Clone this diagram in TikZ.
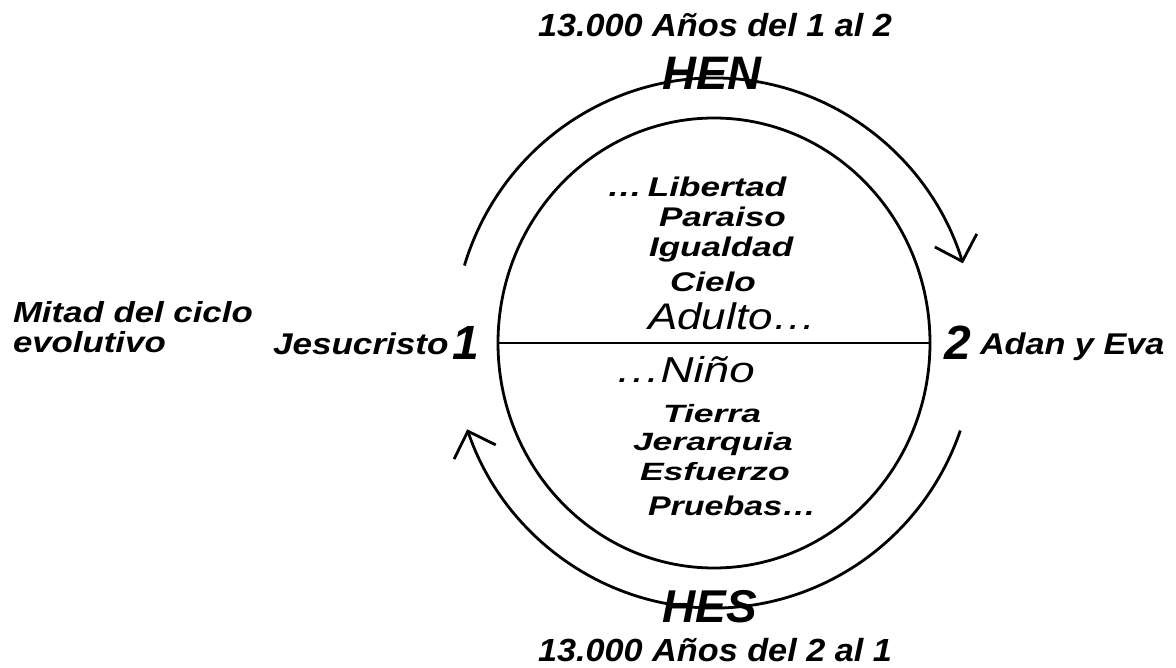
\documentclass[tikz,border=0pt]{standalone}
\usepackage{fontspec}
\setmainfont{Liberation Sans}
\usetikzlibrary{arrows.meta}
\newcommand{\hstretch}[2]{\scalebox{#1}[1]{#2}}
\begin{document}
\begin{tikzpicture}[x=1pt,y=-1pt,
  txt/.style={inner sep=0pt, outer sep=0pt, text=black},
  bi/.style={txt, font=\bfseries\itshape\fontsize{#1}{#1}\selectfont},
  ri/.style={txt, font=\itshape\fontsize{#1}{#1}\selectfont},
  ring/.style={line width=2.8pt, draw=black},
  cyc/.style={line width=2.8pt, draw=black, -{Straight Barb[length=22pt,width=44pt]}}
]
\useasboundingbox[fill=white] (0,0) rectangle (1176,668);

\coordinate (c) at (714,343);
\coordinate (L) at (498,343);
\coordinate (R) at (930,343);

% inner circle and diameter
\draw[ring] (c) ellipse [x radius=216, y radius=225];
\draw[ring] (L) -- (R);

% outer cycle arcs
\draw[cyc] (c) ++(197:261 and 265) arc [start angle=197, end angle=342.5, x radius=261, y radius=265];
\draw[cyc] (c) ++(19.3:261 and 265) arc [start angle=19.3, end angle=161, x radius=261, y radius=265];

% top and bottom labels
\node[bi=32, anchor=base] (t1) at (715,37) {\hstretch{1.07}{13.000 Años del 1 al 2}};
\node[bi=47, anchor=base] (hen) at (712,90) {HEN};
\node[bi=46, anchor=base] (hes) at (710,622) {HES};
\node[bi=32, anchor=base] (t2) at (715,661) {\hstretch{1.07}{13.000 Años del 2 al 1}};

% upper half
\node[bi=27, anchor=base west] (lib) at (607,197) {\hstretch{1.3}{…\,Libertad}};
\node[bi=27, anchor=base west] (par) at (659,227) {\hstretch{1.3}{Paraiso}};
\node[bi=27, anchor=base west] (igu) at (649,257) {\hstretch{1.3}{Igualdad}};
\node[bi=27, anchor=base west] (cie) at (670,292) {\hstretch{1.3}{Cielo}};
\node[ri=37, anchor=base west] (adu) at (648,330) {\hstretch{1.19}{Adulto…}};

% lower half
\node[ri=36, anchor=base west] (nin) at (615,383) {\hstretch{1.27}{…Niño}};
\node[bi=25, anchor=base west] (tie) at (663,422) {\hstretch{1.42}{Tierra}};
\node[bi=25, anchor=base west] (jer) at (633,450) {\hstretch{1.42}{Jerarquia}};
\node[bi=25, anchor=base west] (esf) at (640,480) {\hstretch{1.42}{Esfuerzo}};
\node[bi=27, anchor=base west] (pru) at (648,515) {\hstretch{1.26}{Pruebas…}};

% sides
\node[bi=29, anchor=base west] (mit1) at (13,323) {\hstretch{1.2}{Mitad del ciclo}};
\node[bi=29, anchor=base west] (mit2) at (13,353) {\hstretch{1.2}{evolutivo}};
\node[bi=30, anchor=base west] (jes) at (273,355) {\hstretch{1.17}{Jesucristo}};
\node[bi=48, anchor=base west] (one) at (452,360) {1};
\node[bi=48, anchor=base west] (two) at (944,360) {2};
\node[bi=30, anchor=base west] (ade) at (980,355) {\hstretch{1.14}{Adan y Eva}};
\end{tikzpicture}
\end{document}
